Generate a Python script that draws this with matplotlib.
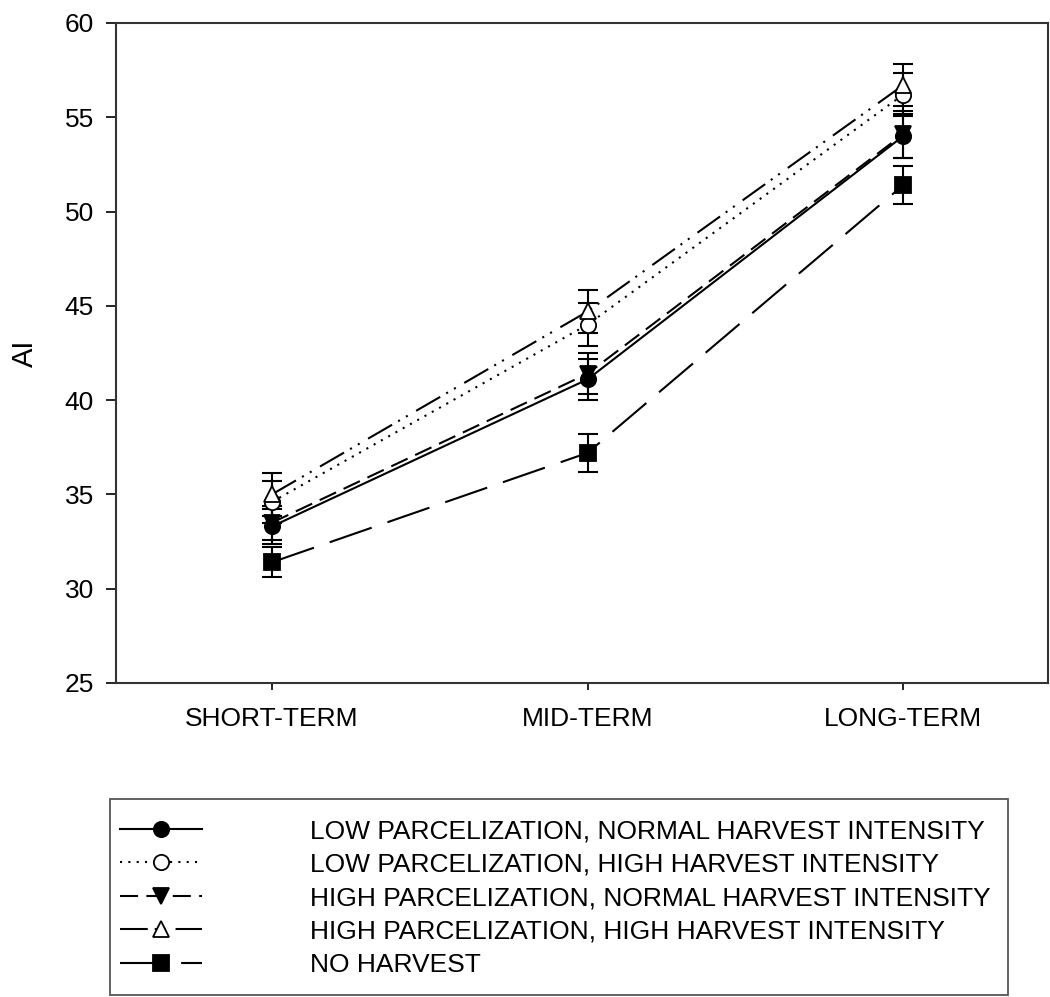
import matplotlib.pyplot as plt
from matplotlib.patches import Rectangle

plt.rcParams['font.family'] = ['Liberation Sans', 'DejaVu Sans']
plt.rcParams['lines.scale_dashes'] = False

# data
periods = ['SHORT-TERM', 'MID-TERM', 'LONG-TERM']
labels = ['LOW PARCELIZATION, NORMAL HARVEST INTENSITY',
          'LOW PARCELIZATION, HIGH HARVEST INTENSITY',
          'HIGH PARCELIZATION, NORMAL HARVEST INTENSITY',
          'HIGH PARCELIZATION, HIGH HARVEST INTENSITY',
          'NO HARVEST']
lpn = [33.3, 41.1, 54.0]
lpn_err = [0.95, 1.1, 1.15]
lph = [34.6, 44.0, 56.2]
lph_err = [1.1, 1.15, 1.15]
hpn = [33.5, 41.4, 54.1]
hpn_err = [0.9, 1.1, 1.25]
hph = [35.0, 44.7, 56.7]
hph_err = [1.15, 1.15, 1.1]
nh = [31.4, 37.2, 51.4]
nh_err = [0.8, 1.0, 1.0]

series = [(lpn, lpn_err), (lph, lph_err), (hpn, hpn_err), (hph, hph_err), (nh, nh_err)]
markers = ['o', 'o', 'v', '^', 's']
faces = ['black', 'white', 'black', 'white', 'black']
# line dash patterns in points
dashes = [None, (0, (1.5, 4.5)), (0, (13, 6)),
          (0, (20, 5, 1.5, 5, 1.5, 7)), (0, (32, 12))]

fig = plt.figure(figsize=(10.5, 9.97), dpi=100)
ax = fig.add_axes([0.1105, 0.315, 0.888, 0.662])

x = list(range(len(periods)))
handles = []
for (vals, err), m, fc, ls, lab in zip(series, markers, faces, dashes, labels):
    ax.errorbar(x, vals, yerr=err, fmt='none', ecolor='black', elinewidth=1.5,
                capsize=7.5, capthick=1.5, zorder=2)
    style = '-' if ls is None else ls
    line, = ax.plot(x, vals, color='black', linewidth=1.5, linestyle=style,
                    marker=m, markersize=11, markerfacecolor=fc,
                    markeredgecolor='black', markeredgewidth=1.3, label=lab, zorder=3)
    handles.append(line)

ax.set_xlim(-0.494, 2.46)
ax.set_ylim(25, 60)
ax.set_yticks([25, 30, 35, 40, 45, 50, 55, 60])
ax.set_xticks(x)
ax.set_xticklabels(periods)
ax.set_ylabel('AI', fontsize=21, labelpad=18)

for s in ax.spines.values():
    s.set_linewidth(1.5)
    s.set_color('#333333')
ax.tick_params(axis='y', direction='out', length=7, width=1.2, pad=9, labelsize=19)
ax.tick_params(axis='x', direction='out', length=5, width=1.2, pad=12, labelsize=19)

# legend without its own frame, box drawn separately
leg = fig.legend(handles=handles, labels=labels, loc='upper left',
                 bbox_to_anchor=(0.1048, 1 - 809 / 997),
                 fontsize=19, handlelength=3.1, handletextpad=4.1,
                 labelspacing=0.36, borderpad=0.38, frameon=False,
                 borderaxespad=0)
fig.patches.append(Rectangle((0.1048, 0.002), 0.855, 0.1966, transform=fig.transFigure,
                             fill=False, edgecolor='#555555', linewidth=1.3))

fig.savefig('out.png', dpi=100)
